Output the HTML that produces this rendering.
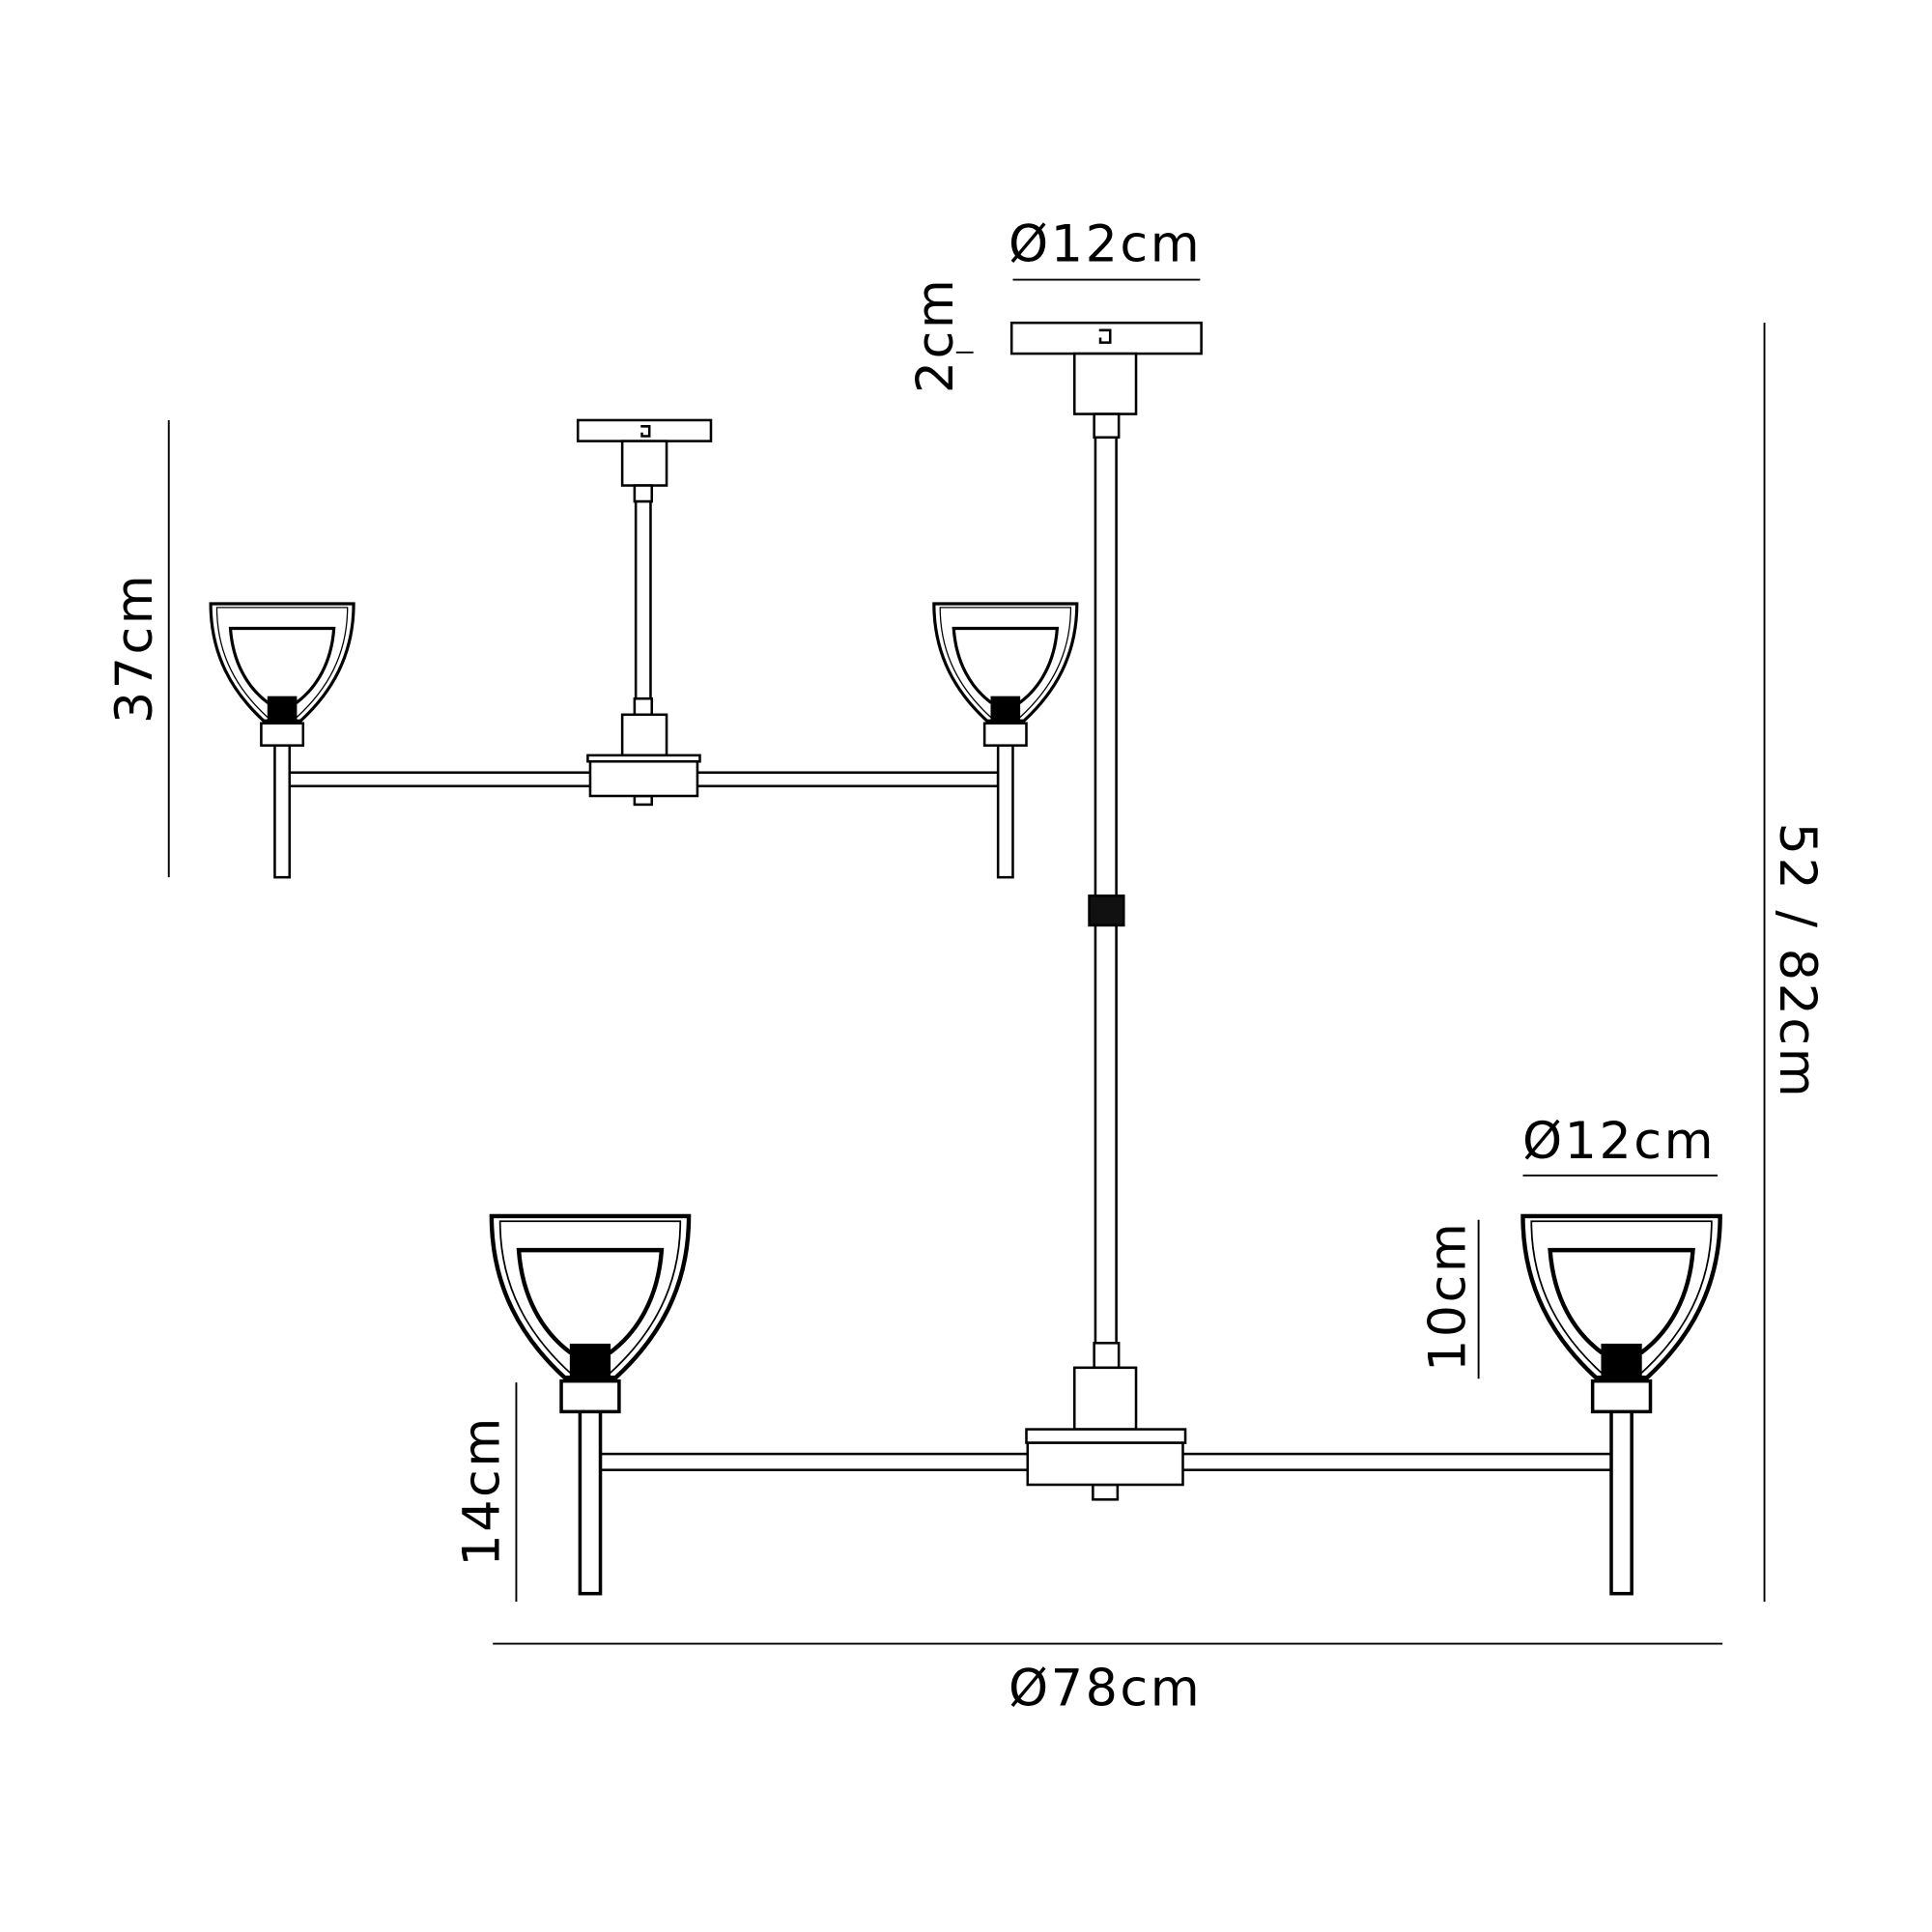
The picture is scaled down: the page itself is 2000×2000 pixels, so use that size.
<!DOCTYPE html>
<html><head><meta charset="utf-8"><style>html,body{margin:0;padding:0;background:#fff}svg{display:block}</style></head>
<body>
<svg width="2000" height="2000" viewBox="0 0 1568 1568" xmlns="http://www.w3.org/2000/svg">
<defs>
<g id="lamp" fill="#fff" stroke="#000" stroke-width="2">
  <rect x="-6" y="112" width="12" height="110"/>
  <path d="M-58,0 H58 C58,42 40,72 15,95 H-15 C-40,72 -58,42 -58,0Z" stroke-width="2.5"/>
  <path d="M-53,3 H53 C53,42 36,70 12,92 H-12 C-36,70 -53,42 -53,3Z" stroke-width="1"/>
  <path d="M-42,20 H42 C40,48 28,68 12,80 H-12 C-28,68 -40,48 -42,20Z" stroke-width="2.5"/>
  <rect x="-11" y="76" width="22" height="21" fill="#000"/>
  <rect x="-17" y="97" width="34" height="18"/>
</g>
</defs>
<g fill="#fff" stroke="#000" stroke-width="2">
<rect x="234" y="627" width="576" height="11"/>
<use href="#lamp" transform="translate(229,490)"/>
<use href="#lamp" transform="translate(816,490)"/>
<rect x="469" y="341" width="108" height="17"/>
<path d="M520,346 h7 v8 h-6 v-3" fill="none"/>
<rect x="505" y="358" width="36" height="36"/>
<rect x="515" y="394" width="14" height="13"/>
<rect x="516" y="407" width="12" height="160"/>
<rect x="515" y="567" width="14" height="13"/>
<rect x="505" y="580" width="36" height="33"/>
<rect x="515" y="646" width="14" height="7"/>
<rect x="477" y="613" width="91" height="5"/>
<rect x="479" y="618" width="87" height="28"/>
<rect x="487" y="1180" width="822" height="13"/>
<use href="#lamp" transform="translate(479,987) scale(1.38)"/>
<use href="#lamp" transform="translate(1316,987) scale(1.38)"/>
<rect x="821" y="262" width="154" height="25"/>
<path d="M892,268 h9 v10 h-8 v-4" fill="none"/>
<rect x="872" y="287" width="50" height="49"/>
<rect x="888" y="336" width="20" height="19"/>
<rect x="889" y="355" width="17" height="372"/>
<rect x="884" y="727" width="28" height="24" fill="#111"/>
<rect x="889" y="751" width="17" height="339"/>
<rect x="888" y="1090" width="20" height="20"/>
<rect x="872" y="1110" width="50" height="50"/>
<rect x="887" y="1205" width="20" height="12"/>
<rect x="833" y="1160" width="129" height="11"/>
<rect x="834" y="1171" width="126" height="34"/>
</g>
<g stroke="#000" stroke-width="1.5">
<line x1="137" y1="341" x2="137" y2="712"/>
<line x1="419" y1="1122" x2="419" y2="1300"/>
<line x1="1200" y1="990" x2="1200" y2="1119"/>
<line x1="822" y1="227" x2="974" y2="227"/>
<line x1="1236" y1="954" x2="1394" y2="954"/>
<line x1="400" y1="1334" x2="1398" y2="1334"/>
<line x1="1432" y1="262" x2="1432" y2="1300"/>
<line x1="776" y1="286" x2="790" y2="286"/>
</g>
<g font-family="'DejaVu Sans','Liberation Sans',sans-serif" font-size="41" fill="#000" text-anchor="middle" letter-spacing="2">
<text x="897" y="212">Ø12cm</text>
<text x="1314" y="940">Ø12cm</text>
<text x="897" y="1384">Ø78cm</text>
<text transform="translate(123,526) rotate(-90)">37cm</text>
<text transform="translate(405,1210) rotate(-90)">14cm</text>
<text transform="translate(1189,1052) rotate(-90)">10cm</text>
<text transform="translate(773,272) rotate(-90)">2cm</text>
<text transform="translate(1445,780) rotate(90)">52 / 82cm</text>
</g>
</svg>
</body></html>
